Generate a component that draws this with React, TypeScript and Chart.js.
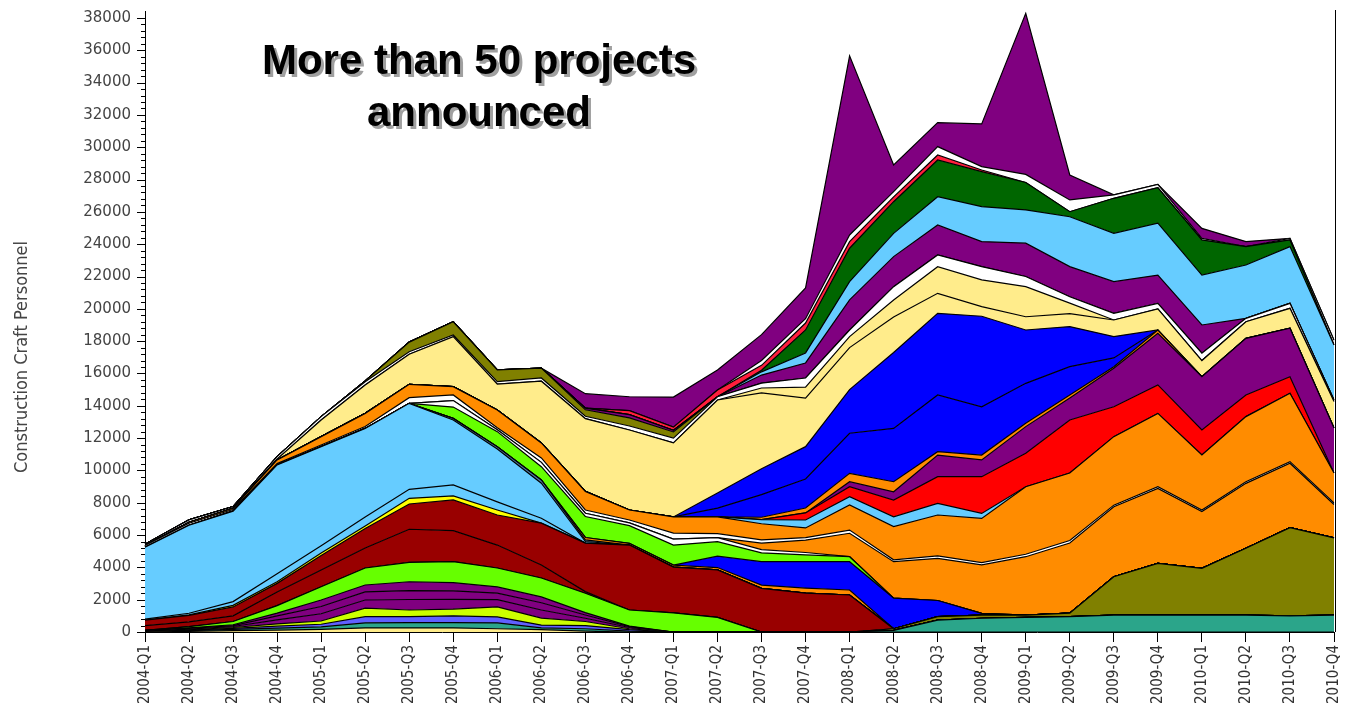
import React, { useEffect, useRef } from 'react';
import { Chart, registerables } from 'chart.js';

Chart.register(...registerables);

const quarters = [
  '2004-Q1', '2004-Q2', '2004-Q3', '2004-Q4',
  '2005-Q1', '2005-Q2', '2005-Q3', '2005-Q4',
  '2006-Q1', '2006-Q2', '2006-Q3', '2006-Q4',
  '2007-Q1', '2007-Q2', '2007-Q3', '2007-Q4',
  '2008-Q1', '2008-Q2', '2008-Q3', '2008-Q4',
  '2009-Q1', '2009-Q2', '2009-Q3', '2009-Q4',
  '2010-Q1', '2010-Q2', '2010-Q3', '2010-Q4',
];

const yTickValues = [0, 2000, 4000, 6000, 8000, 10000, 12000, 14000, 16000, 18000, 20000, 22000, 24000, 26000, 28000, 30000, 32000, 34000, 36000, 38000];

// stacked layers, bottom to top
const paleBase = [0, 40, 80, 120, 160, 250, 250, 250, 200, 150, 50, 0, 0, 0, 0, 0, 0, 0, 0, 0, 0, 0, 0, 0, 0, 0, 0, 0];
const teal = [0, 40, 80, 120, 160, 320, 325, 330, 360, 100, 150, 50, 0, 0, 0, 0, 0, 100, 740, 850, 900, 950, 1050, 1050, 1050, 1050, 1000, 1050];
const violet = [0, 30, 60, 120, 160, 380, 375, 420, 370, 180, 200, 100, 0, 0, 0, 0, 0, 0, 0, 0, 0, 0, 0, 0, 0, 0, 0, 0];
const yellowGreen = [0, 30, 60, 140, 200, 530, 410, 420, 620, 430, 250, 50, 0, 0, 0, 0, 0, 0, 0, 0, 0, 0, 0, 0, 0, 0, 0, 0];
const purpleA = [50, 40, 60, 250, 450, 500, 650, 600, 450, 500, 200, 80, 0, 0, 0, 0, 0, 0, 0, 0, 0, 0, 0, 0, 0, 0, 0, 0];
const purpleB = [50, 40, 60, 250, 450, 500, 550, 530, 400, 450, 200, 50, 0, 0, 0, 0, 0, 0, 0, 0, 0, 0, 0, 0, 0, 0, 0, 0];
const purpleC = [0, 30, 50, 170, 400, 430, 550, 500, 390, 360, 150, 30, 0, 0, 0, 0, 0, 0, 0, 0, 0, 0, 0, 0, 0, 0, 0, 0];
const greenLow = [0, 80, 200, 460, 820, 1050, 1200, 1300, 1170, 1170, 1200, 1000, 1180, 900, 0, 0, 0, 0, 0, 0, 0, 0, 0, 0, 0, 0, 0, 0];
const olive = [0, 0, 0, 0, 0, 0, 0, 0, 0, 0, 0, 0, 0, 0, 0, 0, 0, 100, 210, 200, 150, 220, 2370, 3200, 2890, 4130, 5460, 4770];
const darkRedA = [300, 300, 350, 840, 1040, 1240, 2050, 1920, 1420, 810, 100, 0, 0, 0, 0, 0, 0, 0, 0, 0, 0, 0, 0, 0, 0, 0, 0, 0];
const darkRedB = [340, 400, 550, 540, 900, 1200, 1560, 1900, 1860, 2590, 3000, 4020, 2840, 2940, 2700, 2410, 2290, 0, 0, 0, 0, 0, 0, 0, 0, 0, 0, 0];
const yellow = [0, 30, 100, 100, 150, 160, 350, 250, 310, 0, 0, 0, 0, 0, 0, 0, 0, 0, 0, 0, 0, 0, 0, 0, 0, 0, 0, 0];
const lightBlueThin = [60, 100, 230, 500, 450, 560, 560, 680, 500, 300, 0, 0, 0, 0, 0, 0, 0, 0, 0, 0, 0, 0, 0, 0, 0, 0, 0, 0];
const lightBlue = [4450, 5450, 5600, 6730, 6130, 5480, 5320, 4020, 3270, 2170, 100, 0, 0, 0, 0, 0, 0, 0, 0, 0, 0, 0, 0, 0, 0, 0, 0, 0];
const steel = [0, 0, 0, 0, 0, 0, 0, 100, 150, 200, 100, 0, 0, 0, 0, 0, 0, 0, 0, 0, 0, 0, 0, 0, 0, 0, 0, 0];
const orangeThin = [0, 0, 0, 0, 0, 0, 0, 0, 0, 0, 150, 100, 120, 150, 200, 310, 310, 0, 0, 0, 0, 0, 0, 0, 0, 0, 0, 0];
const blueLow = [0, 0, 0, 0, 0, 0, 0, 0, 0, 0, 0, 0, 0, 700, 1450, 1630, 1750, 1900, 1000, 100, 0, 0, 0, 0, 0, 0, 0, 0];
const greenUp = [0, 0, 0, 0, 0, 0, 0, 700, 930, 820, 1300, 1100, 1240, 900, 550, 420, 310, 0, 0, 0, 0, 0, 0, 0, 0, 0, 0, 0];
const white1 = [0, 0, 0, 0, 0, 0, 0, 400, 120, 270, 200, 175, 370, 250, 200, 150, 0, 0, 0, 0, 0, 0, 0, 0, 0, 0, 0, 0];
const orangeA = [0, 0, 0, 0, 0, 0, 0, 0, 0, 0, 0, 0, 0, 0, 400, 770, 1450, 2250, 2610, 3000, 3610, 4340, 4330, 4640, 3510, 4020, 3980, 2070];
const white2 = [100, 120, 100, 80, 100, 120, 350, 350, 120, 270, 200, 175, 370, 250, 200, 150, 200, 120, 150, 150, 150, 150, 100, 100, 100, 100, 100, 100];
const orangeB = [0, 60, 80, 230, 520, 810, 830, 510, 1100, 930, 1150, 620, 1000, 1040, 1000, 600, 1550, 2050, 2530, 2730, 4180, 4180, 4240, 4540, 3400, 4030, 4230, 1850];
const lightBlue2 = [0, 0, 0, 0, 0, 0, 0, 0, 0, 0, 0, 0, 0, 0, 250, 490, 510, 610, 720, 310, 0, 0, 0, 0, 0, 0, 0, 0];
const red = [0, 0, 0, 0, 0, 0, 0, 0, 0, 0, 0, 0, 0, 0, 0, 440, 620, 1040, 1650, 2270, 2070, 3280, 1850, 1760, 1550, 1340, 1030, 0];
const purpleMid = [0, 0, 0, 0, 0, 0, 0, 0, 0, 0, 0, 0, 0, 0, 0, 0, 310, 510, 1340, 1040, 1650, 1360, 2380, 3200, 3300, 3500, 3000, 2790];
const orangeThin2 = [0, 0, 0, 0, 0, 0, 0, 0, 0, 0, 0, 0, 0, 0, 150, 300, 520, 620, 210, 300, 210, 190, 100, 200, 0, 0, 0, 0];
const blueA = [0, 0, 0, 0, 0, 0, 0, 0, 0, 0, 0, 0, 0, 540, 1400, 1800, 2480, 3300, 3510, 2990, 2470, 1750, 540, 0, 0, 0, 0, 0];
const blueB = [0, 0, 0, 0, 0, 0, 0, 0, 0, 0, 0, 0, 0, 930, 1600, 2000, 2700, 4700, 5050, 5600, 3300, 2480, 1320, 0, 0, 0, 0, 0];
const paleYellow = [0, 0, 0, 50, 1030, 1760, 1860, 3100, 1600, 3820, 4500, 4950, 4580, 5760, 4700, 3010, 2600, 2200, 1240, 600, 820, 800, 1030, 1300, 1000, 1030, 1230, 1630];
const paleYellow2 = [0, 0, 0, 0, 0, 0, 0, 0, 0, 0, 0, 0, 0, 0, 300, 680, 680, 1050, 1650, 1650, 1860, 650, 0, 0, 0, 0, 0, 0];
const white3 = [80, 150, 100, 150, 210, 200, 150, 100, 150, 200, 150, 250, 300, 200, 300, 560, 410, 820, 720, 820, 630, 400, 410, 350, 450, 210, 310, 100];
const oliveTop = [0, 0, 0, 0, 0, 50, 600, 820, 730, 610, 400, 500, 380, 0, 0, 0, 0, 0, 0, 0, 0, 0, 0, 0, 0, 0, 0, 0];
const purpleUpper = [0, 0, 0, 0, 0, 0, 0, 0, 0, 0, 100, 200, 100, 0, 500, 930, 1860, 1860, 1860, 1550, 2060, 1860, 1960, 1750, 1750, 0, 0, 0];
const lightBlueTop = [0, 0, 0, 0, 0, 0, 0, 0, 0, 0, 0, 0, 0, 0, 200, 620, 1130, 1440, 1750, 2160, 2060, 3090, 2990, 3210, 3090, 3300, 3510, 3400];
const greenDark = [0, 0, 0, 0, 0, 0, 0, 0, 0, 0, 0, 0, 0, 0, 100, 1420, 2070, 1960, 2270, 2170, 1700, 310, 2170, 2200, 2170, 1140, 410, 0];
const redThin = [0, 0, 0, 0, 0, 0, 0, 0, 0, 0, 0, 250, 200, 420, 300, 430, 410, 300, 310, 100, 0, 0, 0, 0, 0, 0, 0, 0];
const white4 = [0, 0, 0, 0, 0, 0, 0, 0, 0, 0, 0, 0, 0, 0, 300, 270, 410, 320, 520, 210, 500, 730, 210, 200, 100, 0, 100, 300];
const purpleTop = [0, 0, 0, 0, 0, 0, 0, 0, 0, 0, 900, 860, 1860, 1240, 1600, 1900, 11090, 1650, 1480, 2640, 9970, 1540, 0, 0, 620, 310, 0, 0];

const PALE = '#ffec8b';
const TEAL = '#2ba58a';
const VIOLET = '#6060ff';
const YGREEN = '#ccff00';
const PURPLE = '#800080';
const GREEN = '#66ff00';
const OLIVE = '#808000';
const DARKRED = '#990000';
const YELLOW = '#ffff00';
const LBLUE = '#66ccff';
const STEEL = '#4f7fa8';
const ORANGE = '#ff8c00';
const BLUE = '#0000ff';
const RED = '#ff0000';
const DGREEN = '#006600';
const PINKRED = '#ff1e3c';
const WHITE = '#ffffff';

const layers = [
  { name: 'paleBase', data: paleBase, color: PALE },
  { name: 'teal', data: teal, color: TEAL },
  { name: 'violet', data: violet, color: VIOLET },
  { name: 'yellowGreen', data: yellowGreen, color: YGREEN },
  { name: 'purpleA', data: purpleA, color: PURPLE },
  { name: 'purpleB', data: purpleB, color: PURPLE },
  { name: 'purpleC', data: purpleC, color: PURPLE },
  { name: 'greenLow', data: greenLow, color: GREEN },
  { name: 'olive', data: olive, color: OLIVE },
  { name: 'darkRedA', data: darkRedA, color: DARKRED },
  { name: 'darkRedB', data: darkRedB, color: DARKRED },
  { name: 'yellow', data: yellow, color: YELLOW },
  { name: 'lightBlueThin', data: lightBlueThin, color: LBLUE },
  { name: 'lightBlue', data: lightBlue, color: LBLUE },
  { name: 'steel', data: steel, color: STEEL },
  { name: 'orangeThin', data: orangeThin, color: ORANGE },
  { name: 'blueLow', data: blueLow, color: BLUE },
  { name: 'greenUp', data: greenUp, color: GREEN },
  { name: 'white1', data: white1, color: WHITE },
  { name: 'orangeA', data: orangeA, color: ORANGE },
  { name: 'white2', data: white2, color: WHITE },
  { name: 'orangeB', data: orangeB, color: ORANGE },
  { name: 'lightBlue2', data: lightBlue2, color: LBLUE },
  { name: 'red', data: red, color: RED },
  { name: 'purpleMid', data: purpleMid, color: PURPLE },
  { name: 'orangeThin2', data: orangeThin2, color: ORANGE },
  { name: 'blueA', data: blueA, color: BLUE },
  { name: 'blueB', data: blueB, color: BLUE },
  { name: 'paleYellow', data: paleYellow, color: PALE },
  { name: 'paleYellow2', data: paleYellow2, color: PALE },
  { name: 'white3', data: white3, color: WHITE },
  { name: 'oliveTop', data: oliveTop, color: OLIVE },
  { name: 'purpleUpper', data: purpleUpper, color: PURPLE },
  { name: 'lightBlueTop', data: lightBlueTop, color: LBLUE },
  { name: 'greenDark', data: greenDark, color: DGREEN },
  { name: 'redThin', data: redThin, color: PINKRED },
  { name: 'white4', data: white4, color: WHITE },
  { name: 'purpleTop', data: purpleTop, color: PURPLE },
];

const decorPlugin = {
  id: 'decor',
  afterDraw(chart: any) {
    const ctx = chart.ctx;
    const y = chart.scales.y;
    const area = chart.chartArea;
    ctx.save();
    ctx.strokeStyle = '#000';
    ctx.lineWidth = 1;
    ctx.beginPath();
    for (let v = 0; v <= 38000; v += 400) {
      const py = Math.round(y.getPixelForValue(v)) + 0.5;
      const len = v % 2000 === 0 ? 8 : 4;
      ctx.moveTo(area.left - len, py);
      ctx.lineTo(area.left, py);
    }
    ctx.moveTo(Math.round(area.right) + 1.5, 10);
    ctx.lineTo(Math.round(area.right) + 1.5, area.bottom);
    ctx.stroke();
    ctx.translate(22, 357);
    ctx.rotate(-Math.PI / 2);
    ctx.font = '18px "DejaVu Sans Condensed", "DejaVu Sans"';
    ctx.fillStyle = '#444';
    ctx.textAlign = 'center';
    ctx.textBaseline = 'middle';
    ctx.fillText('Construction Craft Personnel', 0, 0);
    ctx.restore();
  },
};

export default function App() {
  const ref = useRef<HTMLCanvasElement | null>(null);

  useEffect(() => {
    if (!ref.current) return;
    const chart = new Chart(ref.current, {
      type: 'line',
      data: {
        labels: quarters,
        datasets: layers.map((l, i) => ({
          label: l.name,
          data: l.data,
          backgroundColor: l.color,
          borderColor: '#000',
          borderWidth: 1.2,
          fill: i === 0 ? 'origin' : '-1',
          pointRadius: 0,
          tension: 0,
        })),
      },
      options: {
        animation: false,
        responsive: false,
        events: [],
        layout: { autoPadding: false, padding: { left: 0, right: 11, top: 11.5, bottom: 0 } },
        plugins: {
          legend: { display: false },
          tooltip: { enabled: false },
        },
        scales: {
          x: {
            grid: { display: true, drawOnChartArea: false, drawTicks: true, tickLength: 10, color: '#000' },
            border: { display: true, color: '#000', width: 1 },
            ticks: {
              autoSkip: false,
              minRotation: 90,
              maxRotation: 90,
              padding: 3,
              color: '#333',
              font: { family: '"DejaVu Sans Condensed", "DejaVu Sans"', size: 15 },
            },
            afterFit: (scale: any) => {
              scale.height = 89;
              scale.paddingLeft = 0;
              scale.paddingRight = 0;
            },
          },
          y: {
            stacked: true,
            min: 0,
            max: 38400,
            grid: { display: true, drawOnChartArea: false, drawTicks: false },
            border: { display: true, color: '#000', width: 1 },
            afterBuildTicks: (scale: any) => {
              scale.ticks = yTickValues.map((v) => ({ value: v }));
            },
            ticks: {
              padding: 14,
              color: '#444',
              font: { family: '"DejaVu Sans"', size: 15 },
              callback: (v: any) => String(v),
            },
            afterFit: (scale: any) => {
              scale.width = 145;
              scale.paddingTop = 0;
              scale.paddingBottom = 0;
            },
          },
        },
      },
      plugins: [decorPlugin],
    });
    return () => chart.destroy();
  }, []);

  return (
    <div style={{ position: 'absolute', left: 0, top: 0, width: 1345, height: 721, background: '#fff' }}>
      <canvas ref={ref} width={1345} height={721} style={{ display: 'block', width: 1345, height: 721 }} />
      <div
        style={{
          position: 'absolute',
          left: 0,
          top: 34,
          width: 958,
          textAlign: 'center',
          fontFamily: '"Liberation Sans", Arial, sans-serif',
          fontWeight: 'bold',
          fontSize: 42,
          lineHeight: '52px',
          color: '#000',
          textShadow: '3px 3px 0 #a0a0a0',
          pointerEvents: 'none',
        }}
      >
        More than 50 projects
        <br />
        announced
      </div>
    </div>
  );
}
